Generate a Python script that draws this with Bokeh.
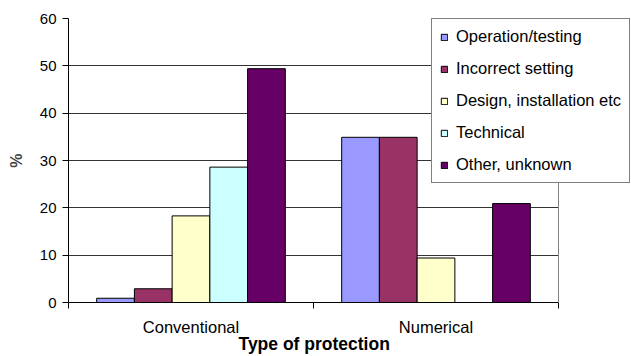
from bokeh.plotting import figure
from bokeh.models import ColumnDataSource, FixedTicker, Legend, LegendItem, Range1d, Span, Title
from bokeh.transform import dodge
from bokeh.embed import file_html
from bokeh.resources import INLINE

categories = ["Conventional", "Numerical"]
series = ["Operation/testing", "Incorrect setting", "Design, installation etc", "Technical", "Other, unknown"]
operation_testing = [0.9, 34.9]
incorrect_setting = [2.9, 34.9]
design_installation = [18.3, 9.4]
technical = [28.6, 0.0]
other_unknown = [49.4, 20.9]
colors = ["#9999FF", "#993366", "#FFFFCC", "#CCFFFF", "#660066"]
y_ticks = [0, 10, 20, 30, 40, 50, 60]

values = [operation_testing, incorrect_setting, design_installation, technical, other_unknown]
ncat = len(categories)
xpos = [i + 0.5 for i in range(ncat)]
data = {"x": xpos}
for i, v in enumerate(values):
    data["s%d" % i] = v
src = ColumnDataSource(data)

FONT = "Liberation Sans"

# frame spans to the right edge so the legend can overhang the plot area
frame_left, plot_right, win_w = 68, 558, 631
x_end = ncat * (win_w - frame_left) / (plot_right - frame_left)

p = figure(width=631, height=356, output_backend="svg", toolbar_location=None,
           x_range=Range1d(0, x_end), y_range=Range1d(0, 60),
           min_border_left=68, min_border_right=0, min_border_top=18, min_border_bottom=54)
p.background_fill_color = "white"
p.border_fill_color = "white"
p.outline_line_color = None

bw = 0.154
offsets = [-2 * bw, -bw, 0, bw, 2 * bw]
renderers = []
for i, off in enumerate(offsets):
    r = p.vbar(x=dodge("x", off, range=p.x_range), top="s%d" % i, width=bw, source=src,
               fill_color=colors[i], line_color="black", line_width=1)
    renderers.append(r)

# right border of the plot area
p.add_layout(Span(location=ncat, dimension="height", line_color="#808080", line_width=1))

# y axis
p.yaxis.ticker = FixedTicker(ticks=y_ticks)
p.yaxis.axis_line_color = "black"
p.yaxis.major_tick_line_color = "black"
p.yaxis.major_tick_in = 0
p.yaxis.major_tick_out = 6
p.yaxis.minor_tick_line_color = None
p.yaxis.major_label_text_font = FONT
p.yaxis.major_label_text_font_size = "15px"
p.yaxis.major_label_text_color = "black"
p.yaxis.major_label_standoff = 6
p.yaxis.axis_label = "%"
p.yaxis.axis_label_text_font = FONT
p.yaxis.axis_label_text_font_style = "bold"
p.yaxis.axis_label_text_font_size = "16px"
p.yaxis.axis_label_standoff = 12

# x axis
p.xaxis.bounds = (0, ncat)
p.xaxis.ticker = FixedTicker(ticks=xpos, minor_ticks=list(range(ncat + 1)))
p.xaxis.major_label_overrides = {x: c for x, c in zip(xpos, categories)}
p.xaxis.major_tick_line_color = None
p.xaxis.minor_tick_line_color = "black"
p.xaxis.minor_tick_in = 0
p.xaxis.minor_tick_out = 6
p.xaxis.axis_line_color = "black"
p.xaxis.major_label_text_font = FONT
p.xaxis.major_label_text_font_size = "16.5px"
p.xaxis.major_label_text_color = "black"
p.xaxis.major_label_standoff = 9

# x axis title, centred under the plot area (not under the wider frame)
xt = Title(text="Type of protection", align="left", offset=170, standoff=-10, vertical_align="top",
           text_font=FONT, text_font_size="17.5px", text_font_style="bold", text_color="black")
p.add_layout(xt, "below")

p.xgrid.grid_line_color = None
p.ygrid.ticker = FixedTicker(ticks=y_ticks)
p.ygrid.cross_bounds = (0, ncat)
p.ygrid.grid_line_color = "#333333"
p.ygrid.grid_line_width = 1

legend = Legend(items=[LegendItem(label=s, renderers=[r]) for s, r in zip(series, renderers)],
                location=(363, 119))
legend.border_line_color = "black"
legend.border_line_width = 1
legend.background_fill_color = "white"
legend.background_fill_alpha = 1
legend.label_text_font = FONT
legend.label_text_font_size = "16.5px"
legend.label_text_color = "black"
legend.glyph_width = 8
legend.glyph_height = 8
legend.label_height = 18
legend.spacing = 13
legend.padding = 8
legend.margin = 0
legend.label_standoff = 8
p.add_layout(legend, "center")

open("out.html", "w").write(file_html(p, INLINE))
